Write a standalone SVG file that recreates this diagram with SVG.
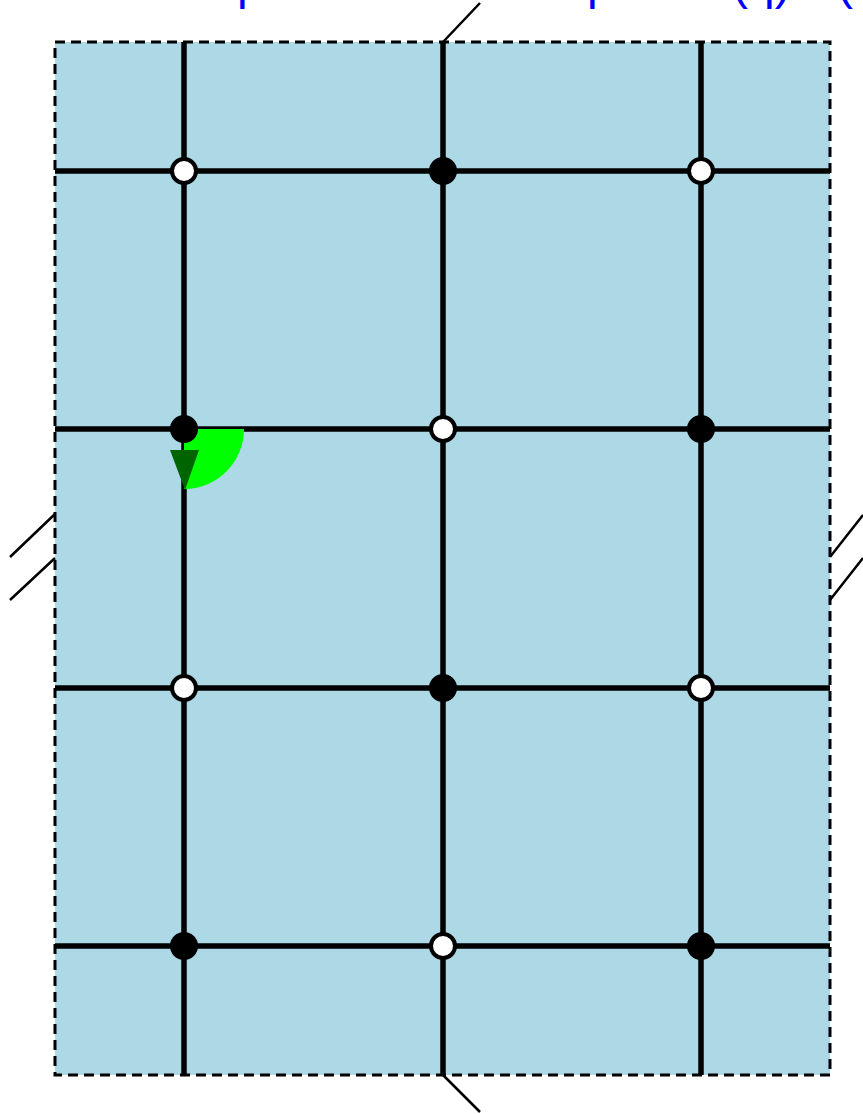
<svg xmlns="http://www.w3.org/2000/svg" width="863" height="1114" viewBox="0 0 863 1114">
<style>
.lbl{font-family:"Liberation Sans",sans-serif;font-size:48px;fill:#0000ff}
.grid{stroke:#000;stroke-width:5.5;fill:none}
.sl{stroke:#000;stroke-width:2.5;fill:none}
.b{fill:#000;stroke:#000;stroke-width:3}
.w{fill:#fff;stroke:#000;stroke-width:4}
</style>
<rect x="0" y="0" width="863" height="1114" fill="#fff"/>
<text class="lbl" x="237" y="-1">p</text>
<text class="lbl" x="587" y="-1">p</text>
<text class="lbl" x="732" y="-1">(q)</text>
<text class="lbl" x="837" y="-1">(</text>
<rect id="panel" x="55" y="42" width="775" height="1033" fill="#add8e6" stroke="#000" stroke-width="3" stroke-dasharray="10,6"/>
<g id="connectors">
<path class="grid" d="M184 42V1075M443 42V1075M701 42V1075M55 171H830M55 429H830M55 688H830M55 946H830"/>
<path class="sl" d="M443 42L480 3M443 1075L480 1112M55 514L10 557M55 558L10 600M830 557L863 515M830 600L863 558"/>
</g>
<g id="angle">
<path d="M184 429H244A60 60 0 0 1 184 489Z" fill="#00ff00"/>
</g>
<g id="n1"><circle class="w" cx="184" cy="171" r="12"/></g>
<g id="n2"><circle class="b" cx="443" cy="171" r="12.5"/></g>
<g id="n3"><circle class="w" cx="701" cy="171" r="12"/></g>
<g id="n4"><circle class="b" cx="184" cy="429" r="12.5"/></g>
<g id="n5"><circle class="w" cx="443" cy="429" r="12"/></g>
<g id="n6"><circle class="b" cx="701" cy="429" r="12.5"/></g>
<g id="n7"><circle class="w" cx="184" cy="688" r="12"/></g>
<g id="n8"><circle class="b" cx="443" cy="688" r="12.5"/></g>
<g id="n9"><circle class="w" cx="701" cy="688" r="12"/></g>
<g id="n10"><circle class="b" cx="184" cy="946" r="12.5"/></g>
<g id="n11"><circle class="w" cx="443" cy="946" r="12"/></g>
<g id="n12"><circle class="b" cx="701" cy="946" r="12.5"/></g>
<g id="arrow"><path d="M170 450H199L185 490Z" fill="#006400"/></g>
</svg>
